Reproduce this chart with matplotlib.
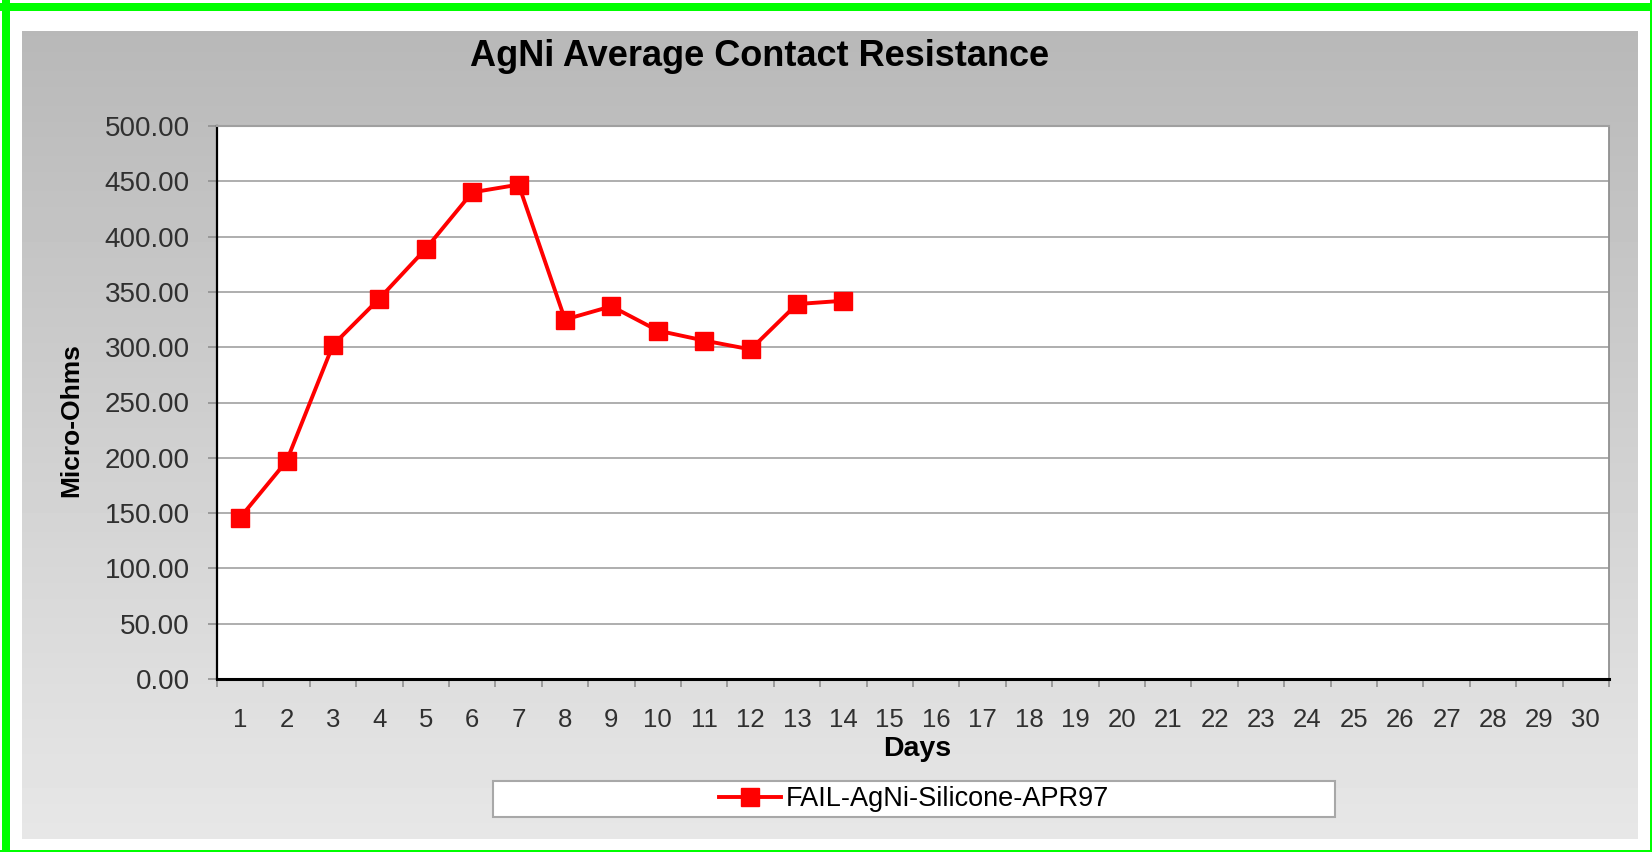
import numpy as np
import matplotlib
matplotlib.use("Agg")
import matplotlib.pyplot as plt
from matplotlib.patches import Rectangle
from matplotlib.lines import Line2D

plt.rcParams['font.family'] = ['Liberation Sans', 'DejaVu Sans']

# 数据
days = list(range(1, 15))
resistance = [146, 197, 302, 344, 389, 440, 447, 325, 337, 315, 306, 298, 339, 342]
day_labels = [str(d) for d in range(1, 31)]
y_ticks = list(range(0, 501, 50))
series_name = 'FAIL-AgNi-Silicone-APR97'

W, H = 1652, 852


def box(x0, y0, x1, y1):
    # 像素坐标(左上原点) -> figure 坐标
    return [x0 / W, (H - y1) / H, (x1 - x0) / W, (y1 - y0) / H]


fig = plt.figure(figsize=(W / 100, H / 100), dpi=100)
fig.patch.set_facecolor('white')

# 灰色渐变背景
bg = fig.add_axes(box(22, 31, 1638, 839))
grad = np.linspace(184, 231, 256).reshape(-1, 1)
bg.imshow(grad, cmap='gray', vmin=0, vmax=255, aspect='auto', extent=[0, 1, 0, 1], origin='upper')
bg.axis('off')

# 绿色边框
for r in [box(2, 0, 10, H), box(0, 3, W, 11), box(1650, 0, W, H), box(0, 850, W, H)]:
    fig.patches.append(Rectangle((r[0], r[1]), r[2], r[3], transform=fig.transFigure,
                                 facecolor='#00ff00', edgecolor='none', zorder=10))

# 主图
ax = fig.add_axes(box(217, 126, 1609, 679))
ax.set_facecolor('white')
ax.plot(days, resistance, color='#ff0000', linewidth=2.8, marker='s', markersize=13,
        markerfacecolor='#ff0000', markeredgecolor='#ff0000', zorder=3, clip_on=False)

ax.set_xlim(0.5, 30.5)
ax.set_ylim(0, 500)

ax.set_yticks(y_ticks)
ax.set_yticklabels(['%.2f' % v for v in y_ticks])
ax.yaxis.grid(True, color='#a8a8a8', linewidth=1.3)
ax.set_axisbelow(True)

ax.set_xticks(range(1, 31))
ax.set_xticklabels(day_labels)
ax.set_xticks(np.arange(0.5, 31, 1), minor=True)
ax.tick_params(axis='x', which='major', length=0, pad=21, labelsize=18.5, labelcolor='#303030')
ax.tick_params(axis='x', which='minor', length=6, width=1.2, color='#909090', direction='out')
ax.tick_params(axis='y', which='major', length=6.5, width=1.2, color='#909090', pad=13,
               labelsize=20, labelcolor='#303030')

ax.spines['left'].set_color('black')
ax.spines['left'].set_linewidth(1.6)
ax.spines['bottom'].set_color('black')
ax.spines['bottom'].set_linewidth(2.2)
ax.spines['top'].set_color('#a0a0a0')
ax.spines['top'].set_linewidth(1.5)
ax.spines['right'].set_color('#909090')
ax.spines['right'].set_linewidth(1.3)

# 标题和坐标轴标题
fig.text(760 / W, 1 - 57 / H, 'AgNi Average Contact Resistance', ha='center', va='center',
         fontsize=26, fontweight='bold', color='black')
fig.text(71 / W, 1 - 420 / H, 'Micro-Ohms', ha='center', va='center', rotation=90,
         fontsize=19, fontweight='bold', color='black')
fig.text(917 / W, 1 - 749 / H, 'Days', ha='center', va='center',
         fontsize=20.5, fontweight='bold', color='black')

# 图例
lb = box(493, 781, 1335, 817)
fig.patches.append(Rectangle((lb[0], lb[1]), lb[2], lb[3], transform=fig.transFigure,
                             facecolor='white', edgecolor='#a8a8a8', linewidth=1.5, zorder=5))
handle = Line2D([], [], color='#ff0000', linewidth=2.8, marker='s', markersize=13)
leg = fig.legend([handle], [series_name], loc='center', bbox_to_anchor=(914 / W, 1 - 799 / H),
                 frameon=False, fontsize=19.5, handlelength=2.3, handletextpad=0.15)
leg.set_zorder(6)

fig.savefig('out.png', dpi=100)
